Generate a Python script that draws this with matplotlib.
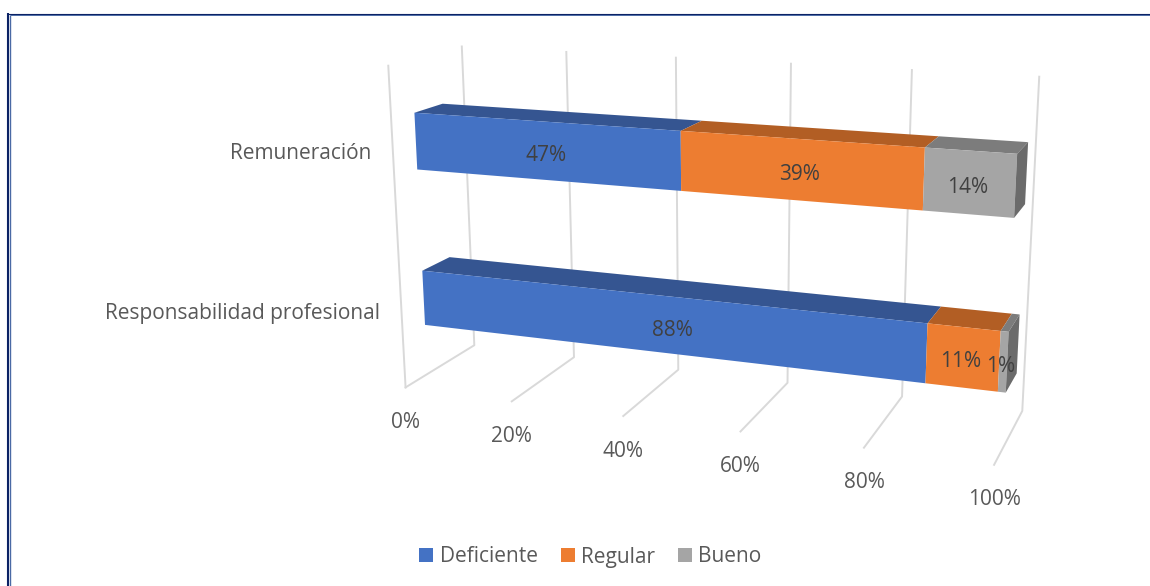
import numpy as np
import matplotlib
matplotlib.use('Agg')
import matplotlib.pyplot as plt
from matplotlib.patches import Polygon, Patch

# Datos del grafico (porcentajes, estimados de la imagen; las etiquetas van redondeadas)
categorias = ['Remuneración', 'Responsabilidad profesional']
deficiente = [47.4, 87.6]
regular = [38.9, 11.2]
bueno = [13.7, 1.2]
series = ['Deficiente', 'Regular', 'Bueno']
ticks = [0, 20, 40, 60, 80, 100]

colores = ['#4472C4', '#ED7D31', '#A5A5A5']
colores_top = ['#355591', '#B25E24', '#7C7C7C']
color_lado = '#6B6B6B'
color_rejilla = '#D9D9D9'
color_texto = '#595959'
color_dato = '#404040'

plt.rcParams['font.family'] = ['Open Sans', 'DejaVu Sans']

# Calibracion de la camara: (valor, fondo, altura) -> pixel
ref_3d = [(t, 1, 1) for t in ticks] + [(t, 1, 0) for t in ticks] + [(t, 0, 0) for t in ticks] + [(0, 0, 1)]
ref_px = [(461.7, 47), (566, 52), (675.7, 58), (792, 63), (912, 70), (1038.7, 76.5),
          (474, 345), (574, 357), (678.7, 370), (787.7, 382.7), (902, 397), (1022, 410.7),
          (405.7, 386.7), (511.7, 401.7), (623, 416), (740.7, 431.7), (864, 447.7), (994, 465),
          (388.3, 65.7)]


def calibrar(p3, p2):
    A = []
    for (X, Y, Z), (u, v) in zip(p3, p2):
        A.append([X, Y, Z, 1, 0, 0, 0, 0, -u*X, -u*Y, -u*Z, -u])
        A.append([0, 0, 0, 0, X, Y, Z, 1, -v*X, -v*Y, -v*Z, -v])
    return np.linalg.svd(np.array(A, dtype=float))[2][-1].reshape(3, 4)


P = calibrar(ref_3d, ref_px)


def proy(valor, fondo, altura):
    h = P @ np.array([valor, fondo, altura, 1.0])
    return h[0] / h[2], h[1] / h[2]


# fondo y altura de cada barra
barras = [(0.302, 0.69, 0.662, 0.838), (0.302, 0.69, 0.163, 0.340)]

fig = plt.figure(figsize=(11.5, 5.86), dpi=100)
ax = fig.add_axes([0, 0, 1, 1])
ax.set_xlim(0, 1150)
ax.set_ylim(586, 0)
ax.axis('off')

# Rejilla
ax.plot(*zip(proy(0, 0, 1), proy(0, 0, 0)), color=color_rejilla, lw=1.4, zorder=1)
for t in ticks:
    ax.plot(*zip(proy(t, 1, 1), proy(t, 1, 0), proy(t, 0, 0)), color=color_rejilla, lw=1.4, zorder=1)
    x, y = proy(t, 0, 0)
    ax.text(x, y + 35, f'{t}%', ha='center', va='center', fontsize=15, color=color_texto)

# Barras apiladas
for i, cat in enumerate(categorias):
    d0, d1, z0, z1 = barras[i]
    base = 0
    for j, vals in enumerate([deficiente, regular, bueno]):
        v = vals[i]
        fin = base + v
        ax.add_patch(Polygon([proy(base, d0, z1), proy(fin, d0, z1), proy(fin, d1, z1), proy(base, d1, z1)],
                             fc=colores_top[j], ec='none', zorder=2))
        ax.add_patch(Polygon([proy(base, d0, z0), proy(fin, d0, z0), proy(fin, d0, z1), proy(base, d0, z1)],
                             fc=colores[j], ec='none', zorder=3))
        # la etiqueta va en el punto medio de la cara en pixeles
        xa, ya = proy(base, d0, (z0 + z1) / 2)
        xb, yb = proy(fin, d0, (z0 + z1) / 2)
        ax.text((xa + xb) / 2 - 2.5, (ya + yb) / 2 + 4.5, f'{v:.0f}%', ha='center', va='center', fontsize=15,
                color=color_dato, zorder=5)
        base = fin
    ax.add_patch(Polygon([proy(100, d0, z0), proy(100, d1, z0), proy(100, d1, z1), proy(100, d0, z1)],
                         fc=color_lado, ec='none', zorder=3))
    x, y = proy(0, 0, (z0 + z1) / 2)
    ax.text(x - 21, y + 4, cat, ha='right', va='center', fontsize=15, color=color_texto)

# Marco
ax.plot([8.4, 8.4], [586, 13], color='#0B2265', lw=1.5, solid_capstyle='butt', zorder=6)
ax.plot([10.2, 10.2], [586, 15], color='#4A6AA5', lw=1.0, solid_capstyle='butt', zorder=6)
ax.plot([7.3, 1150], [13.5, 13.5], color='#0B2265', lw=0.8, solid_capstyle='butt', zorder=6)
ax.plot([9.5, 1150], [14.6, 14.6], color='#4A6AA5', lw=0.7, solid_capstyle='butt', zorder=6)

handles = [Patch(fc=c, ec='none') for c in colores]
fig.legend(handles, series, loc='center', bbox_to_anchor=(590.5 / 1150, 1 - 557 / 586), ncol=3, frameon=False,
           fontsize=15, labelcolor=color_texto, handlelength=0.67, handleheight=0.67,
           handletextpad=0.31, columnspacing=1.1)

fig.savefig('out.png', dpi=100)
